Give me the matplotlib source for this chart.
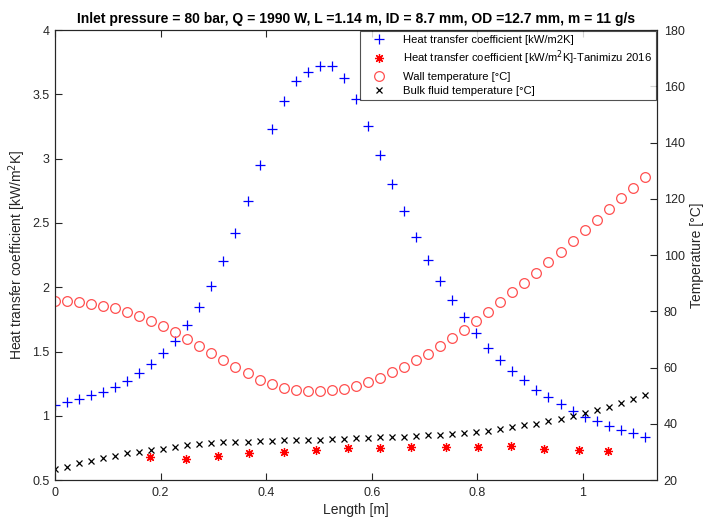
import numpy as np
import matplotlib
matplotlib.use("Agg")
import matplotlib.pyplot as plt

plt.rcParams['font.family'] = ['Liberation Sans', 'DejaVu Sans']

# ---- data ----
n_pts = 50
tube_length = 1.14
length = np.arange(n_pts) * tube_length / n_pts

htc = [1.084, 1.105, 1.131, 1.159, 1.187, 1.226, 1.273, 1.335, 1.403, 1.488,
       1.584, 1.704, 1.844, 2.007, 2.204, 2.421, 2.670, 2.950, 3.228, 3.450,
       3.601, 3.673, 3.718, 3.718, 3.627, 3.463, 3.251, 3.026, 2.802, 2.593,
       2.393, 2.212, 2.046, 1.898, 1.766, 1.646, 1.527, 1.432, 1.351, 1.280,
       1.203, 1.148, 1.092, 1.037, 0.993, 0.957, 0.921, 0.890, 0.864, 0.833]

wall_T = [83.7, 83.6, 83.2, 82.6, 81.9, 81.1, 79.9, 78.3, 76.7, 74.7,
          72.5, 70.1, 67.5, 65.1, 62.6, 60.2, 57.9, 55.7, 54.0, 52.8,
          52.1, 51.8, 51.8, 51.9, 52.3, 53.4, 54.7, 56.4, 58.3, 60.3,
          62.6, 64.9, 67.7, 70.5, 73.5, 76.5, 79.8, 83.2, 86.7, 90.2,
          93.8, 97.4, 101.1, 105.0, 108.8, 112.6, 116.4, 120.3, 124.0, 127.8]

bulk_T = [24.0, 24.8, 25.9, 26.9, 27.7, 28.5, 29.5, 30.1, 30.8, 31.2,
          31.7, 32.3, 32.8, 33.1, 33.4, 33.5, 33.7, 33.8, 34.0, 34.1,
          34.2, 34.3, 34.4, 34.6, 34.7, 34.9, 35.1, 35.3, 35.3, 35.4,
          35.5, 35.9, 36.1, 36.4, 36.7, 37.2, 37.5, 38.1, 38.7, 39.5,
          40.1, 40.9, 41.8, 42.9, 43.8, 44.8, 46.0, 47.3, 48.7, 50.1]

tani_x = [0.181, 0.249, 0.309, 0.368, 0.434, 0.495, 0.555, 0.615, 0.674, 0.741,
          0.802, 0.864, 0.927, 0.992, 1.048]
tani_htc = [0.677, 0.666, 0.687, 0.711, 0.716, 0.736, 0.752, 0.752, 0.760, 0.760,
            0.760, 0.763, 0.744, 0.734, 0.724]

x_ticks = [0, 0.2, 0.4, 0.6, 0.8, 1.0]
x_ticklabels = ['0', '0.2', '0.4', '0.6', '0.8', '1']
yl_ticks = [0.5, 1, 1.5, 2, 2.5, 3, 3.5, 4]
yl_ticklabels = ['0.5', '1', '1.5', '2', '2.5', '3', '3.5', '4']
yr_ticks = [20, 40, 60, 80, 100, 120, 140, 160, 180]

title = "Inlet pressure = 80 bar, Q = 1990 W, L =1.14 m, ID = 8.7 mm, OD =12.7 mm, m = 11 g/s"

# ---- figure ----
fig = plt.figure(figsize=(7.04, 5.19), dpi=100)
ax = fig.add_axes([0.078, 0.075, 0.855, 0.867])
ax2 = ax.twinx()

spine_col = '#262626'
asterisk = (8, 2, 0)
h1, = ax.plot(length, htc, linestyle='none', marker='+', color='#0000ff',
              ms=7, mew=0.9, label='Heat transfer coefficient [kW/m2K]')
h2, = ax.plot(tani_x, tani_htc, linestyle='none', marker=asterisk,
              color='#ff0000', ms=6.5, mew=0.9, markeredgecolor='#ff0000',
              label='Heat transfer coefficient [kW/m$^2$K]-Tanimizu 2016')
h3, = ax2.plot(length, wall_T, linestyle='none', marker='o', mfc='none',
               mec='#ff5050', ms=7, mew=0.9, label='Wall temperature [°C]')
h4, = ax2.plot(length, bulk_T, linestyle='none', marker='x', color='#000000',
               ms=4.5, mew=0.9, label='Bulk fluid temperature [°C]')

ax.set_xlim(0, 1.14)
ax.set_ylim(0.5, 4)
ax2.set_ylim(20, 180)
ax.set_xticks(x_ticks)
ax.set_xticklabels(x_ticklabels)
ax.set_yticks(yl_ticks)
ax.set_yticklabels(yl_ticklabels)
ax2.set_yticks(yr_ticks)

for a in (ax, ax2):
    for s in a.spines.values():
        s.set_color(spine_col)
        s.set_linewidth(0.8)
ax.tick_params(axis='x', direction='in', top=True, length=5, width=0.8,
               colors=spine_col, labelsize=9, labelcolor='#262626', pad=5)
ax.tick_params(axis='y', direction='in', length=5, width=0.8, colors=spine_col,
               labelsize=9, labelcolor='#262626', pad=4)
ax2.tick_params(axis='y', direction='in', length=5, width=0.8, colors=spine_col,
                labelsize=9, labelcolor='#262626', pad=5)

ax.set_xlabel('Length [m]', fontsize=10, color='#262626', labelpad=3)
ax.set_ylabel('Heat transfer coefficient [kW/m$^2$K]', fontsize=10,
              color='#262626', labelpad=3)
ax2.set_ylabel('Temperature [°C]', fontsize=10, color='#262626', labelpad=4)
ax.set_title(title, fontsize=10, fontweight='bold', color='#000000', pad=5)

leg = ax2.legend(handles=[h1, h2, h3, h4], loc='upper right', fontsize=8.1,
                 frameon=True, fancybox=False, borderaxespad=0.05,
                 handletextpad=0.9, labelspacing=0.38, borderpad=0.35,
                 handlelength=2.6)
leg.get_frame().set_edgecolor(spine_col)
leg.get_frame().set_linewidth(0.8)

fig.savefig('out.png', dpi=100)
